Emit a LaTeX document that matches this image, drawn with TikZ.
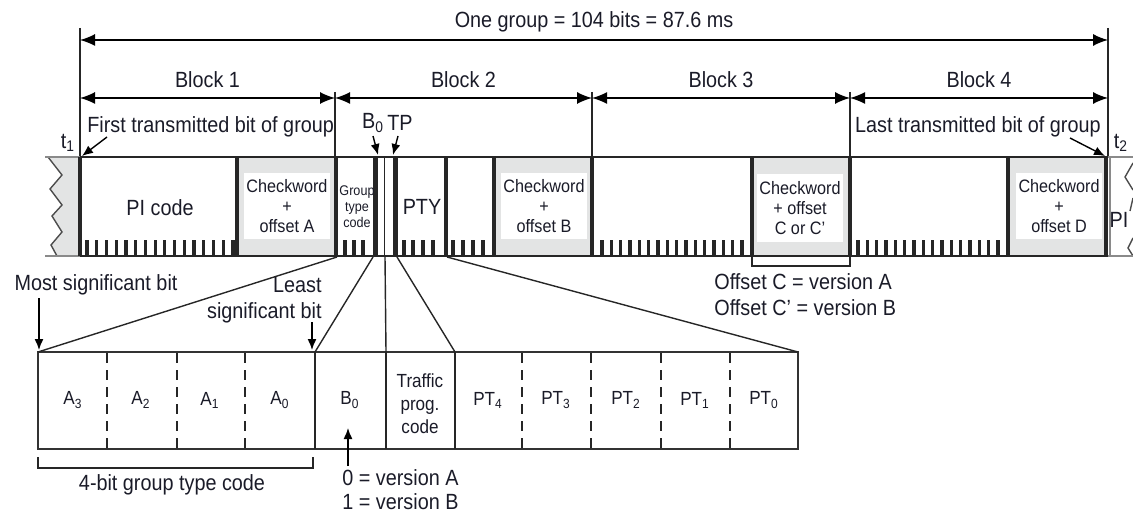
\documentclass[tikz,border=0pt]{standalone}
\usepackage{fontspec}
\setmainfont{Liberation Sans}[FakeStretch=0.9]
\usetikzlibrary{arrows.meta,calc}
\definecolor{cwgray}{HTML}{E3E4E4}
\definecolor{inkc}{HTML}{1A1B28}
\definecolor{edgegray}{HTML}{8A8A8A}
\newcommand{\lowidx}[1]{\textsubscript{#1}}

\begin{document}
\begin{tikzpicture}[x=0.5pt, y=-0.5pt,
  every node/.style={text=inkc, inner sep=0.5pt, font=\fontsize{11}{13}\selectfont},
  small/.style={font=\fontsize{9}{10}\selectfont, align=center},
  tiny/.style={font=\fontsize{7}{8}\selectfont, align=center},
  dim/.style={{Latex[length=7.5pt,width=6pt]}-{Latex[length=7.5pt,width=6pt]}, line width=0.7pt},
  pointer/.style={-{Latex[length=5.5pt,width=4.5pt]}, line width=0.7pt},
  cwbox/.style={small, fill=white, minimum width=43pt, minimum height=32.5pt},
  barline/.style={line width=1.2pt, black!85},
  divline/.style={line width=1.6pt, black!85},
  bittick/.style={line width=1.6pt, black!85},
  thin/.style={line width=0.7pt, black!85},
  cell/.style={font=\fontsize{9.5}{11.5}\selectfont, align=center}
]
\useasboundingbox (0,0) rectangle (1133,513);

% group and block spans
\coordinate (gs) at (80,40);
\coordinate (ge) at (1108,40);
\draw[thin] (80,28) -- (80,157);
\draw[thin] (1108,28) -- (1108,157);
\draw[dim] (gs) -- (ge);
\node (grp) at (594,22) {One group = 104 bits = 87.6 ms};
\foreach \i/\x in {0/80,1/335,2/592,3/850,4/1108}
  \coordinate (b\i) at (\x,98);
\foreach \x in {335,592,850}
  \draw[thin] (\x,92) -- (\x,157);
\foreach \i/\j/\n in {0/1/1,1/2/2,2/3/3,3/4/4}{
  \draw[dim] (b\i) -- (b\j);
  \node (blk\n) at ($(b\i)!0.5!(b\j)+(0,-18)$) {Block \n};
}

% torn ends
\fill[cwgray] (48,157) -- (62,175) -- (50,189) -- (62,205) -- (52,216) -- (62,232)
  -- (51,245) -- (57,256) -- (80,256) -- (80,157) -- cycle;
\draw[thin, black!70] (48,157) -- (62,175) -- (50,189) -- (62,205) -- (52,216)
  -- (62,232) -- (51,245) -- (57,256);
\draw[thin, black!70] (1133,163) -- (1125,177) -- (1133,190);
\draw[thin, black!70] (1133,198) -- (1130,211);
\draw[thin, black!70] (1133,238) -- (1128,248) -- (1133,256);
\draw[line width=1.2pt, edgegray] (45,157) -- (80,157) (45,256) -- (80,256);
\draw[line width=1.2pt, edgegray] (1108,157) -- (1133,157) (1108,256) -- (1133,256);
\draw[thin, edgegray] (1110,157) -- (1110,256);
\node (pinext) at (1119,220) {PI};

% checkword fields
\foreach \a/\b in {237/335,494/592,752/850,1008/1108}
  \fill[cwgray] (\a,157) rectangle (\b,256);
\node[cwbox] (cwA) at (287,206) {Checkword\\+\\offset A};
\node[cwbox] (cwB) at (544,206) {Checkword\\+\\offset B};
\node[cwbox, minimum height=34pt] (cwC) at (800,208) {Checkword\\+ offset\\C or C'};
\node[cwbox] (cwD) at (1059,206) {Checkword\\+\\offset D};

% bit ticks
\foreach \s/\d in {87/9.73,602/9.33,858/9.33}
  \foreach \k in {0,...,15}
    \draw[bittick] ({\s+\d*\k},240) -- ++(0,16);
\foreach \x in {345,354,363,404,413,423,433,453,463,473,483}
  \draw[bittick] (\x,240) -- (\x,256);

% bar outline and field borders
\draw[barline] (80,157) -- (1108,157) (80,256) -- (1108,256);
\foreach \x in {80,237,336,446,494,592,752,850,1008,1106}
  \draw[divline] (\x,157) -- (\x,256);
\draw[line width=2.5pt, black!85] (375.5,157) -- (375.5,256);
\draw[thin] (384.5,157) -- (384.5,256);
\draw[line width=2.5pt, black!85] (395.5,157) -- (395.5,256);

\node (pic) at (160,208) {PI code};
\node[tiny] (gtc) at (357,207) {Group\\type\\code};
\node (pty) at (422,207) {PTY};

% first and last bit
\node[anchor=west] (first) at (86,127) {First transmitted bit of group};
\node (t1) at (68,143) {t\lowidx{1}};
\coordinate (fa) at (107,137);
\coordinate (fb) at (82,156);
\draw[pointer] (fa) -- (fb);
\node[anchor=east] (last) at (1102,127) {Last transmitted bit of group};
\node (t2) at (1121,143) {t\lowidx{2}};
\coordinate (la) at (1070,138);
\coordinate (lb) at (1105,156);
\draw[pointer] (la) -- (lb);

% B0 and TP
\node (b0lab) at (373,123) {B\lowidx{0}};
\node (tplab) at (400,123) {TP};
\coordinate (b0a) at (373,136);
\coordinate (b0b) at (378,155);
\coordinate (tpa) at (398,136);
\coordinate (tpb) at (393,155);
\draw[pointer] (b0a) -- (b0b);
\draw[pointer] (tpa) -- (tpb);

% offset C bracket
\draw[thin] (752,256) -- (752,266) -- (850,266) -- (850,256);
\node[anchor=west] (offc) at (713,282) {Offset C = version A};
\node[anchor=west] (offcp) at (713,308) {Offset C' = version B};

% expanded block 2
\draw[line width=1.1pt, black!80, fill=white] (38,352) rectangle (798,449);
\foreach \x in {107,177,245,522,591,661,730}
  \draw[thin, dash pattern=on 5pt off 3.5pt] (\x,353) -- (\x,448);
\foreach \x in {315,386,455}
  \draw[line width=0.9pt, black!85] (\x,352) -- (\x,449);
\foreach \n/\x/\t in {a3/73/A\lowidx{3},a2/141/A\lowidx{2},a1/210/A\lowidx{1},a0/280/A\lowidx{0},
  bz/350/B\lowidx{0},pt4/488/PT\lowidx{4},pt3/556/PT\lowidx{3},pt2/626/PT\lowidx{2},
  pt1/695/PT\lowidx{1},pt0/764/PT\lowidx{0}}
  \node[cell] (\n) at (\x,400) {\t};
\node[cell] (tpc) at (420,404) {Traffic\\prog.\\code};

% fan-out lines
\coordinate (u1) at (337,257);
\coordinate (u2) at (373,257);
\coordinate (u3) at (385,257);
\coordinate (u4) at (397,257);
\coordinate (u5) at (447,257);
\coordinate (d1) at (38,352);
\coordinate (d2) at (315,352);
\coordinate (d3) at (386,352);
\coordinate (d4) at (455,352);
\coordinate (d5) at (798,352);
\foreach \i in {1,...,5}
  \draw[thin] (u\i) -- (d\i);

% bit order notes
\node (msb) at (96,285) {Most significant bit};
\coordinate (ma) at (39,298);
\coordinate (mb) at (39,350);
\draw[pointer] (ma) -- (mb);
\node[anchor=east, align=right] (lsbt) at (323,300) {Least\\significant bit};
\coordinate (sa) at (312,322);
\coordinate (sb) at (312,350);
\draw[pointer] (sa) -- (sb);

\draw[thin] (38,457) -- (38,468) -- (313,468) -- (313,457);
\node (gtcode) at (172,485) {4-bit group type code};

\coordinate (va) at (348,466);
\coordinate (vb) at (348,428);
\draw[pointer] (va) -- (vb);
\node[anchor=west] (vA) at (341,478) {0 = version A};
\node[anchor=west] (vB) at (341,502) {1 = version B};
\end{tikzpicture}
\end{document}
